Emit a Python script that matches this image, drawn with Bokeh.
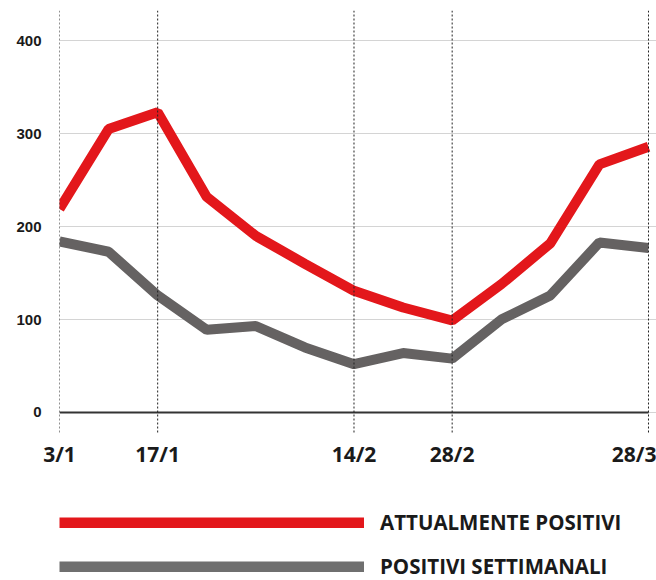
from bokeh.plotting import figure
from bokeh.layouts import column
from bokeh.models import Span, Legend, LegendItem, FixedTicker, Range1d
from bokeh.embed import file_html
from bokeh.resources import INLINE

weeks = ["3/1", "10/1", "17/1", "24/1", "31/1", "7/2", "14/2", "21/2", "28/2", "7/3", "14/3", "21/3", "28/3"]
attualmente_positivi = [219, 305, 323, 232, 190, 160, 131, 113, 99, 138, 182, 267, 286]
positivi_settimanali = [184, 173, 126, 89, 93, 70, 52, 64, 58, 100, 126, 183, 177]
labelled_weeks = ["3/1", "17/1", "14/2", "28/2", "28/3"]
y_ticks = [0, 100, 200, 300, 400]
series_names = ["ATTUALMENTE POSITIVI", "POSITIVI SETTIMANALI"]

xs = list(range(len(weeks)))
label_pos = [weeks.index(w) for w in labelled_weeks]

RED = "#e3171b"
GRAY = "#656262"
LEGEND_GRAY = "#6f6f6f"

p = figure(width=656, height=470, output_backend="svg", toolbar_location=None,
           x_range=Range1d(0, 12.163), y_range=Range1d(-22.6, 432.6),
           min_border_left=59, min_border_right=0, min_border_top=10, min_border_bottom=37)
p.outline_line_color = None
p.background_fill_color = "white"
p.xgrid.visible = False
p.ygrid.grid_line_color = "#d4d4d4"
p.ygrid.grid_line_width = 1

# y axis
p.yaxis.ticker = FixedTicker(ticks=y_ticks)
p.yaxis.axis_line_color = None
p.yaxis.major_tick_line_color = None
p.yaxis.minor_tick_line_color = None
p.yaxis.major_tick_out = 0
p.yaxis.major_tick_in = 0
p.yaxis.major_label_standoff = 18
p.yaxis.major_label_text_font = "Liberation Sans"
p.yaxis.major_label_text_font_style = "bold"
p.yaxis.major_label_text_font_size = "15px"
p.yaxis.major_label_text_color = "#1a1a1a"

# x axis
p.xaxis.ticker = FixedTicker(ticks=label_pos)
p.xaxis.major_label_overrides = {pos: w for pos, w in zip(label_pos, labelled_weeks)}
p.xaxis.axis_line_color = None
p.xaxis.major_tick_line_color = None
p.xaxis.minor_tick_line_color = None
p.xaxis.major_tick_out = 0
p.xaxis.major_tick_in = 0
p.xaxis.major_label_standoff = 6
p.xaxis.major_label_text_font = "Open Sans"
p.xaxis.major_label_text_font_style = "bold"
p.xaxis.major_label_text_font_size = "21px"
p.xaxis.major_label_text_color = "#1a1a1a"

# vertical dotted reference lines
for pos in label_pos:
    p.add_layout(Span(location=pos, dimension="height", line_color="#222222",
                      line_width=1, line_dash="2 2"))

# zero baseline
p.segment(x0=xs[0], x1=xs[-1], y0=0, y1=0, line_color="#333333", line_width=2)

p.line(xs, attualmente_positivi, line_color=RED, line_width=10)
p.line(xs, positivi_settimanali, line_color=GRAY, line_width=10)

# legend panel (separate figure below the chart; its frame is aligned with the chart's)
lg = figure(width=656, height=110, output_backend="svg", toolbar_location=None,
            x_axis_type=None, y_axis_type=None,
            min_border_left=0, min_border_right=0, min_border_top=0, min_border_bottom=0)
lg.outline_line_color = None
lg.xgrid.visible = False
lg.ygrid.visible = False
# single-point lines: nothing visible in the panel, only their legend swatches are drawn
k1 = lg.line(x=xs[:1], y=attualmente_positivi[:1], line_color=RED, line_width=11)
k2 = lg.line(x=xs[:1], y=positivi_settimanali[:1], line_color=LEGEND_GRAY, line_width=11)

legend = Legend(items=[LegendItem(label=series_names[0], renderers=[k1]),
                       LegendItem(label=series_names[1], renderers=[k2])],
                location=(0, 0), orientation="vertical",
                glyph_width=305, glyph_height=11, label_height=16, label_standoff=16,
                spacing=16, padding=0, margin=0,
                border_line_color=None, background_fill_alpha=0,
                label_text_font="Open Sans", label_text_font_style="bold",
                label_text_font_size="20.5px", label_text_color="#1a1a1a")
lg.add_layout(legend, "center")

open("out.html", "w").write(file_html(column(p, lg, spacing=0), INLINE))
